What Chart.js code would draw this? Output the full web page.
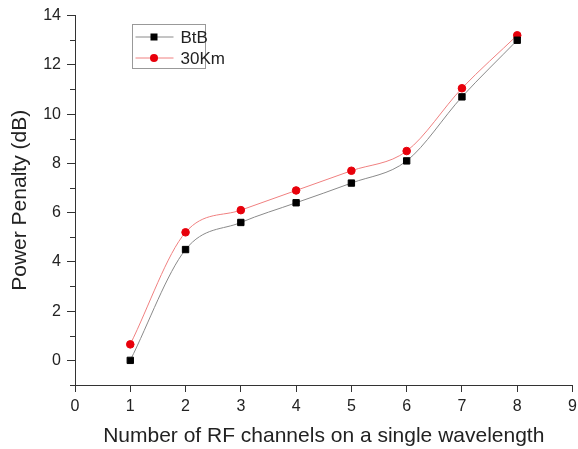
<!DOCTYPE html>
<html>
<head>
<meta charset="utf-8">
<script src="https://cdn.jsdelivr.net/npm/chart.js@4.4.0/dist/chart.umd.min.js"></script>
<style>
  html, body { margin: 0; padding: 0; background: #fff; }
  #wrap { width: 578px; height: 449px; }
</style>
</head>
<body>
<div id="wrap"><canvas id="penaltyChart" width="578" height="449"></canvas></div>
<script>
// values
const channels = [1, 2, 3, 4, 5, 6, 7, 8];
const btb = [0.0, 4.5, 5.6, 6.4, 7.2, 8.1, 10.7, 13.0];
const km30 = [0.65, 5.2, 6.1, 6.9, 7.7, 8.5, 11.05, 13.2];
const yTicks = [0, 2, 4, 6, 8, 10, 12, 14];
const yMinor = [-1, 1, 3, 5, 7, 9, 11, 13];

const toPoints = (ys) => channels.map((x, i) => ({ x: x, y: ys[i] }));
const axisColor = '#333';
const font = 'Liberation Sans, Arial, sans-serif';

// minor ticks on the y axis + boxed legend inside the plot, like Origin draws it
const extras = {
  id: 'extras',
  afterDraw(chart) {
    const ctx = chart.ctx;
    const y = chart.scales.y;
    ctx.save();
    ctx.strokeStyle = axisColor;
    ctx.lineWidth = 1;
    yMinor.forEach(v => {
      const py = Math.round(y.getPixelForValue(v)) + 0.5;
      ctx.beginPath();
      ctx.moveTo(y.right - 5, py);
      ctx.lineTo(y.right, py);
      ctx.stroke();
    });

    // legend box
    const bx = 132.5, by = 24.5, bw = 73, bh = 44;
    ctx.strokeStyle = '#999';
    ctx.strokeRect(bx, by, bw, bh);
    chart.data.datasets.forEach((ds, i) => {
      const ly = by + 12.5 + i * 21;
      ctx.strokeStyle = ds.borderColor;
      ctx.beginPath();
      ctx.moveTo(bx + 3, ly);
      ctx.lineTo(bx + 41, ly);
      ctx.stroke();
      ctx.fillStyle = ds.pointBackgroundColor;
      if (ds.pointStyle === 'rect') {
        ctx.fillRect(bx + 18, ly - 3.5, 7, 7);
      } else {
        ctx.beginPath();
        ctx.arc(bx + 21.5, ly, 4, 0, Math.PI * 2);
        ctx.fill();
      }
      ctx.fillStyle = '#222';
      ctx.font = '17px ' + font;
      ctx.textBaseline = 'middle';
      ctx.fillText(ds.label, bx + 48, ly + 1);
    });
    ctx.restore();
  }
};

const chart = new Chart(document.getElementById('penaltyChart').getContext('2d'), {
  type: 'line',
  data: {
    datasets: [
      {
        label: 'BtB',
        data: toPoints(btb),
        borderColor: '#8a8a8a',
        borderWidth: 1,
        pointStyle: 'rect',
        pointRadius: 4.5,
        pointBackgroundColor: '#000',
        pointBorderColor: '#000',
        cubicInterpolationMode: 'monotone'
      },
      {
        label: '30Km',
        data: toPoints(km30),
        borderColor: '#f08080',
        borderWidth: 1,
        pointStyle: 'circle',
        pointRadius: 3.8,
        pointBackgroundColor: '#e8000b',
        pointBorderColor: '#e8000b',
        cubicInterpolationMode: 'monotone'
      }
    ]
  },
  options: {
    responsive: false,
    animation: false,
    layout: { padding: { left: 0, right: 4, top: 15, bottom: 0 } },
    plugins: { legend: { display: false }, tooltip: { enabled: false } },
    scales: {
      x: {
        type: 'linear',
        min: 0,
        max: 9,
        afterFit: (axis) => { axis.height = 64; axis.paddingRight = 0; },
        ticks: { stepSize: 1, color: '#222', font: { family: font, size: 16 }, padding: 5 },
        grid: { drawOnChartArea: false, tickLength: 7, color: axisColor },
        border: { color: axisColor, width: 1 },
        title: {
          display: true,
          text: 'Number of RF channels on a single wavelength',
          color: '#222',
          font: { family: font, size: 21 },
          padding: { top: 2, bottom: 0 }
        }
      },
      y: {
        type: 'linear',
        min: -1,
        max: 14,
        afterBuildTicks: (axis) => { axis.ticks = yTicks.map(v => ({ value: v })); },
        afterFit: (axis) => { axis.width = 75; },
        ticks: { color: '#222', font: { family: font, size: 16 }, padding: 6 },
        grid: { drawOnChartArea: false, tickLength: 8, color: axisColor },
        border: { color: axisColor, width: 1 },
        title: {
          display: true,
          text: 'Power Penalty (dB)',
          color: '#222',
          font: { family: font, size: 21 },
          padding: { top: 8, bottom: 0 }
        }
      }
    }
  },
  plugins: [extras]
});
</script>
</body>
</html>
